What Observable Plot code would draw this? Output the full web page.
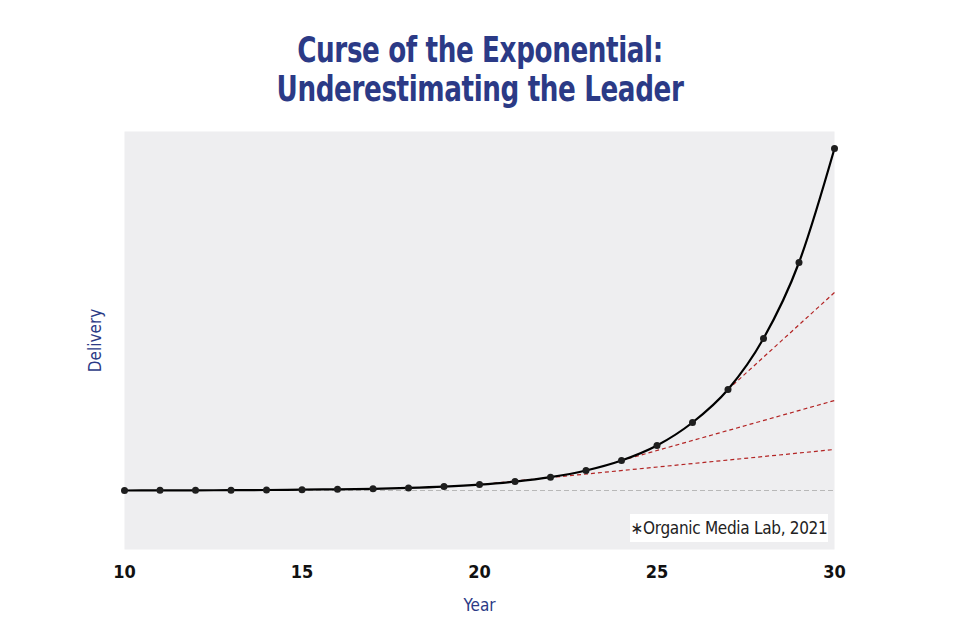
<!DOCTYPE html>
<html>
<head>
<meta charset="utf-8">
<script src="https://cdn.jsdelivr.net/npm/d3@7"></script>
<script src="https://cdn.jsdelivr.net/npm/@observablehq/plot@0.6"></script>
<style>
  body { margin: 0; background: #fff; }
  #wrap { position: relative; width: 960px; height: 640px; }
  #title {
    position: absolute; top: 30px; left: 0; width: 960px; text-align: center;
    font-family: "DejaVu Sans Condensed", "Liberation Sans Narrow", sans-serif;
    font-weight: bold; font-size: 36px; line-height: 39px; color: #2b3a86;
    letter-spacing: -0.5px; transform: scaleX(0.81); transform-origin: 480px 0;
  }
  #caption {
    position: absolute; left: 630px; top: 514px; width: 198px; height: 28px;
    background: #fff; font-family: "DejaVu Sans Condensed", "Liberation Sans Narrow", sans-serif;
    font-size: 17px; line-height: 28px; color: #222; text-align: center; white-space: nowrap;
    letter-spacing: -0.3px;
  }
  svg { display: block; }
</style>
</head>
<body>
<div id="wrap">
  <div id="title">Curse of the Exponential:<br>Underestimating the Leader</div>
  <div id="chart"></div>
  <div id="caption">∗Organic Media Lab, 2021</div>
</div>
<script>
const years = [10,11,12,13,14,15,16,17,18,19,20,21,22,23,24,25,26,27,28,29,30];
const delivery = [0,0.15,0.2,0.35,0.5,0.8,1.2,1.7,2.6,3.9,5.9,8.9,13.3,20,30,45,68,101,152,228,342];
const trendStartYear = [20,24,27];
const trendStartValue = [5.9,30,101];
const trendEndYear = [30,30,30];
const trendEndValue = [41,90,198];
const xTicks = [10,15,20,25,30];

const series = years.map((y,i) => ({year: y, value: delivery[i]}));
const trends = trendStartYear.map((s,i) => ({x1: s, y1: trendStartValue[i], x2: trendEndYear[i], y2: trendEndValue[i]}));

const font = '"DejaVu Sans Condensed", "Liberation Sans Narrow", sans-serif';

const chart = Plot.plot({
  width: 960,
  height: 640,
  marginTop: 131,
  marginBottom: 91,
  marginLeft: 124,
  marginRight: 126,
  style: {fontFamily: font, background: "transparent"},
  x: {domain: [10, 30], ticks: xTicks},
  y: {domain: [-59, 359]},
  marks: [
    Plot.frame({fill: "#eeeef0", stroke: null}),
    Plot.ruleY([0], {stroke: "#b8b8b8", strokeDasharray: "5,3", strokeWidth: 1}),
    Plot.link(trends, {x1: "x1", y1: "y1", x2: "x2", y2: "y2", stroke: "#b32424", strokeWidth: 1.2, strokeDasharray: "4,3"}),
    Plot.line(series, {x: "year", y: "value", stroke: "#000", strokeWidth: 2.2, curve: "monotone-x"}),
    Plot.dot(series, {x: "year", y: "value", r: 3.5, fill: "#1e1e1e"}),
    Plot.axisX({ticks: xTicks, tickSize: 0, tickPadding: 16, fontSize: 18, fontWeight: "bold", fill: "#111", label: null}),
    Plot.axisY({ticks: [], label: null}),
    Plot.text(["Year"], {frameAnchor: "bottom", dy: 61, fill: "#2b3a86", fontSize: 17}),
    Plot.text(["Delivery"], {frameAnchor: "left", dx: -29, dy: 0, rotate: -90, fill: "#2b3a86", fontSize: 17, textAnchor: "middle"})
  ]
});
document.getElementById("chart").appendChild(chart);
</script>
</body>
</html>
